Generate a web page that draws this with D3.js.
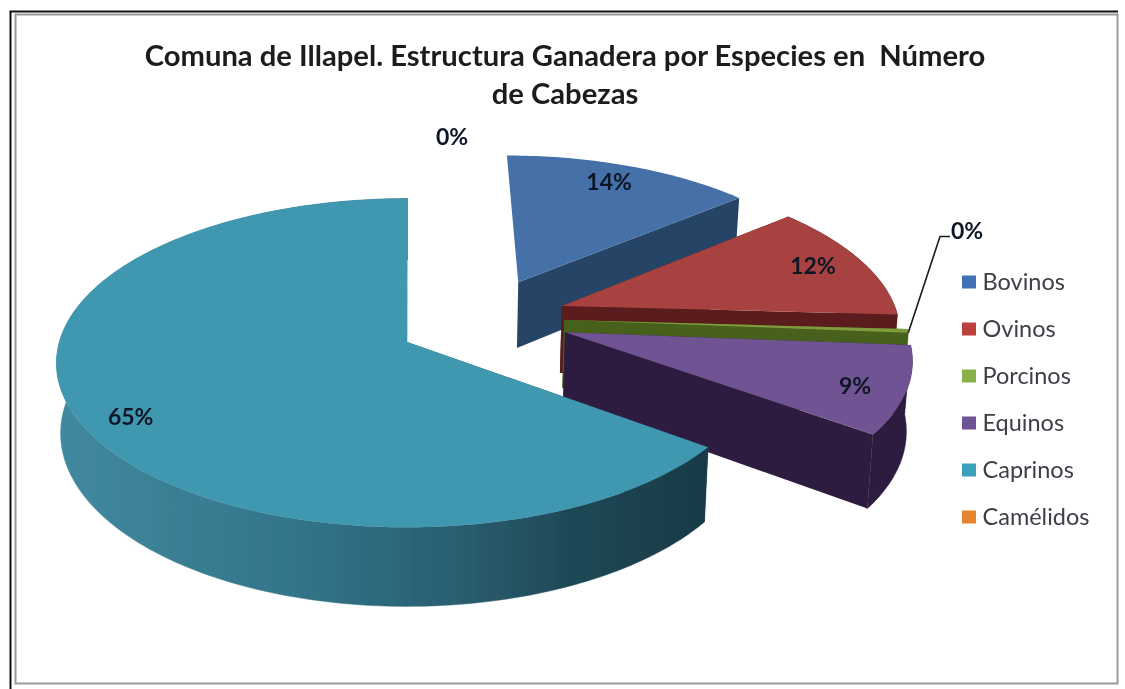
<!DOCTYPE html>
<html><head><meta charset="utf-8">
<script src="https://cdn.jsdelivr.net/npm/d3@7/dist/d3.min.js"></script>
<style>html,body{margin:0;padding:0;background:#fff}svg{display:block}</style>
</head><body><svg id="c" width="1125" height="689"></svg>
<script>
const titleLines = ["Comuna de Illapel. Estructura Ganadera por Especies en  Número", "de Cabezas"];
const categories = ["Bovinos", "Ovinos", "Porcinos", "Equinos", "Caprinos", "Camélidos"];
const values = [14, 12, 0.4, 9, 65, 0];
const percentLabels = ["14%", "12%", "0%", "9%", "65%", "0%"];
const topColors = ["#4470a8", "#a8423f", "#7f9c3c", "#6f5393", "#3f97b0", "#e5832f"];
const wallColors = ["#274566", "#5a1f1c", "#47611a", "#2e1f3f", "url(#capWall)", "#8a4a10"];
const legendColors = ["#3f6fb5", "#bd3f3c", "#8ab04a", "#6f5397", "#3aa0be", "#e5832f"];

// explosion of each slice on the disk plane (disk radii)
const explodeU = [0.320, 0.440, 0.442, 0.440, -0.008, 0];
const explodeV = [-0.380, -0.225, -0.135, -0.060, 0, 0];
const radiusK = [0.945, 0.965, 0.975, 0.97, 0.98, 1];

const svg = d3.select("#c");
const defs = svg.append("defs");
defs.append("filter").attr("id","soft").attr("x","-2%").attr("y","-2%").attr("width","104%").attr("height","104%")
  .append("feGaussianBlur").attr("stdDeviation",0.55);
const grad = defs.append("linearGradient").attr("id","capWall").attr("gradientUnits","userSpaceOnUse")
  .attr("x1",55).attr("x2",705).attr("y1",0).attr("y2",0);
[[0,"#41899f"],[0.35,"#33768b"],[0.6,"#2a6073"],[0.8,"#1e4856"],[1,"#183a46"]]
  .forEach(([o,c])=>grad.append("stop").attr("offset",o).attr("stop-color",c));

const root = svg.append("g").attr("filter","url(#soft)");

// frame
root.append("rect").attr("x",15.5).attr("y",14.5).attr("width",1102).attr("height",669)
  .attr("fill","#fff").attr("stroke","#9a9a9a").attr("stroke-width",2);
root.append("path").attr("d","M10.5,689V11.5H1118").attr("fill","none").attr("stroke","#111").attr("stroke-width",2);

// projection
const persp = 0.13, depth = 69, cx = 410;
const xS = d3.scaleLinear().domain([-1,1]).range([cx-355,cx+355]);
const yS = d3.scaleLinear().domain([-1,1]).range([342-165,342+165]);
const persScale = v => 1/(1 - v*persp);
const project = (u,v,drop=0) => {
  const s = persScale(v);
  return [cx + (xS(u*s)-cx)*(1-0.012*drop), yS(v*s) + drop*depth*s];
};

const arcs = d3.pie().sort(null).value(d=>d).startAngle(0).endAngle(2*Math.PI)(values);
const line = d3.line();
const rim = (i,a,r=1) => [explodeU[i]+r*radiusK[i]*Math.sin(a), explodeV[i]-r*radiusK[i]*Math.cos(a)];

function rimPts(i){ const a=arcs[i]; const n=Math.max(2,Math.ceil((a.endAngle-a.startAngle)*60));
  return d3.range(n+1).map(k=>a.startAngle+(a.endAngle-a.startAngle)*k/n); }

[0,1,2,3,4].forEach(i=>{
  const ang = rimPts(i), apex=[explodeU[i],explodeV[i]];
  const g = root.append("g");
  const top = ang.map(t=>rim(i,t));
  const wall=(pts)=>pts.map(p=>project(p[0],p[1],0)).concat(pts.slice().reverse().map(p=>project(p[0],p[1],1)));
  const col = wallColors[i];
  // Bovinos sits at the back: only its end face shows
  if (i !== 0) {
    g.append("path").attr("d",line(wall(top))+"Z").attr("fill",col).attr("stroke",col).attr("stroke-width",.5);
    g.append("path").attr("d",line(wall([apex,top[0]]))+"Z").attr("fill",col);
  }
  g.append("path").attr("d",line(wall([apex,top[top.length-1]]))+"Z").attr("fill",col);
  g.append("path").attr("d",line([project(...apex),...top.map(p=>project(p[0],p[1])) ])+"Z").attr("fill",topColors[i]);
});

// title
root.selectAll("text.title").data(titleLines).join("text").attr("class","title")
  .attr("x",565).attr("y",(d,i)=>66+i*38).attr("text-anchor","middle")
  .style("font","700 29.2px Lato").attr("fill","#1c1c1c").attr("xml:space","preserve").text(d=>d);

// percent labels (position in disk coordinates relative to each slice)
const labelAngle = [0.417, 1.242, 0, 1.96, 4.185, 0];
const labelR = [0.84, 0.84, 0, 0.86, 0.868, 0];
const lab = (txt,x,y)=>root.append("text").attr("x",x).attr("y",y).attr("text-anchor","middle")
  .style("font","700 23px Lato").attr("fill","#0e1626").text(txt);
[0,1,3,4].forEach(i=>{
  const [u,v]=rim(i,labelAngle[i],labelR[i]); const [x,y]=project(u,v);
  lab(percentLabels[i],x,y+8);
});
lab(percentLabels[5],452,145);
lab(percentLabels[2],967,239);

// leader
const tip = project(...rim(2,arcs[2].endAngle));
root.append("path").attr("d",line([tip,[940,236.5],[950,236.5]])).attr("fill","none").attr("stroke","#1a1a1a").attr("stroke-width",1.6);

// legend
const legY = d3.scalePoint().domain(categories).range([282,517]);
const leg = root.selectAll("g.leg").data(categories).join("g").attr("class","leg")
  .attr("transform",d=>`translate(962,${legY(d)})`);
leg.append("rect").attr("y",-6.5).attr("width",14).attr("height",13).attr("fill",(d,i)=>legendColors[i]);
leg.append("text").attr("x",20.5).attr("y",7.5).style("font","400 23.5px Lato").attr("fill","#3c4048").text(d=>d);
</script></body></html>
